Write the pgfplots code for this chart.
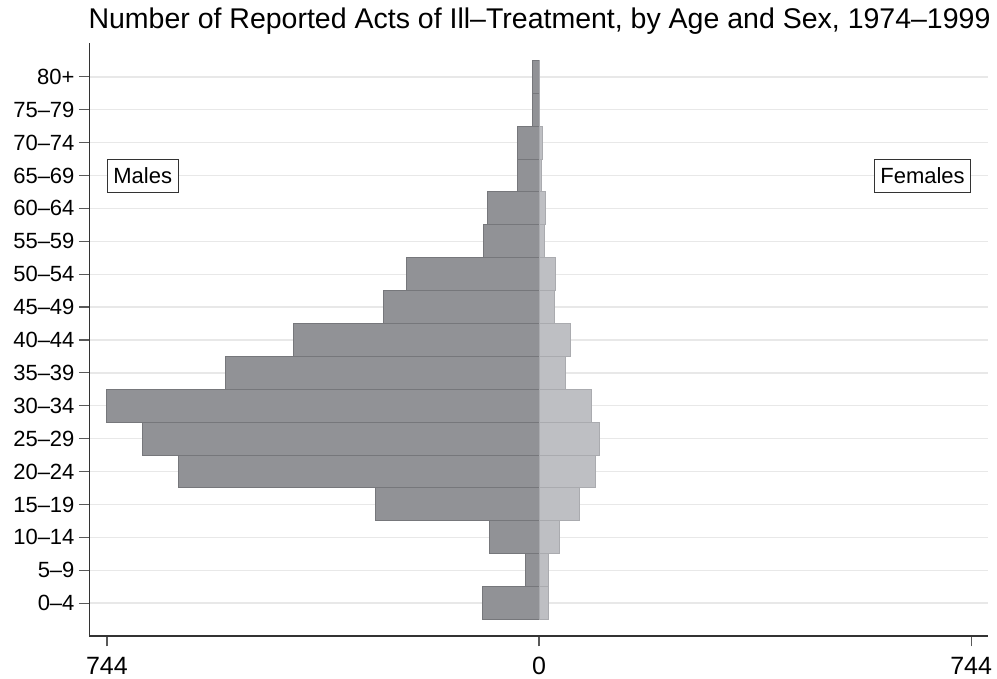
\documentclass[border=0pt]{standalone}
\usepackage{pgfplots}
\pgfplotsset{compat=1.18}
\usepackage{fontspec}
\setmainfont{Liberation Sans}

\definecolor{malefill}{RGB}{145,146,150}
\definecolor{maleedge}{RGB}{118,119,123}
\definecolor{femfill}{RGB}{190,191,195}
\definecolor{femedge}{RGB}{170,171,175}

\begin{document}
\begin{tikzpicture}[x=1pt,y=1pt]
\begin{axis}[
    at={(89.5pt,43pt)}, anchor=south west,
    scale only axis,
    width=898.5pt, height=593pt,
    xmin=-774, xmax=773,
    ymin=-1, ymax=17.03,
    axis lines*=left,
    axis line style={draw=black!80, line width=1.2pt},
    xtick={-744,0,744},
    xticklabels={744,0,744},
    ytick={0,...,16},
    yticklabels={0–4,5–9,10–14,15–19,20–24,25–29,30–34,35–39,40–44,45–49,50–54,55–59,60–64,65–69,70–74,75–79,80+},
    tick align=outside,
    major tick length=10.5pt,
    tick style={draw=black!65, line width=1.2pt},
    ymajorgrids,
    grid style={draw=black!9, line width=1.3pt},
    xticklabel style={font=\fontsize{25}{25}\selectfont, yshift=-7pt},
    yticklabel style={font=\fontsize{22}{22}\selectfont, xshift=-1pt},
    clip=false,
]
% males (drawn to the left)
\addplot[xbar, bar width=1, bar shift=0pt, fill=malefill, draw=maleedge, line width=1pt] coordinates {
    (-98,0) (-24,1) (-86,2) (-282,3) (-620,4) (-682,5) (-744,6) (-539,7)
    (-422,8) (-268,9) (-228,10) (-95,11) (-89,12) (-37,13) (-37,14) (-12,15) (-12,16)
};
% females (drawn to the right)
\addplot[xbar, bar width=1, bar shift=0pt, fill=femfill, draw=femedge, line width=1pt] coordinates {
    (17,0) (16,1) (36,2) (70,3) (98,4) (104,5) (91,6) (46,7)
    (55,8) (27,9) (29,10) (9,11) (11,12) (5,13) (6,14) (1,15) (1,16)
};
\node[anchor=west, draw=black!80, line width=0.9pt, fill=white, inner xsep=6pt,
      minimum height=33pt, font=\fontsize{22}{22}\selectfont] at (axis cs:-744,13) {Males};
\node[anchor=east, draw=black!80, line width=0.9pt, fill=white, inner xsep=6pt,
      minimum height=33pt, font=\fontsize{22}{22}\selectfont] at (axis cs:744,13) {Females};
\end{axis}
\node[anchor=base, font=\fontsize{28.5}{28.5}\selectfont] at (539.5pt,650pt)
    {Number of Reported Acts of Ill–Treatment, by Age and Sex, 1974–1999};
\pgfresetboundingbox
\path (0,0) rectangle (997pt,679pt);
\end{tikzpicture}
\end{document}
